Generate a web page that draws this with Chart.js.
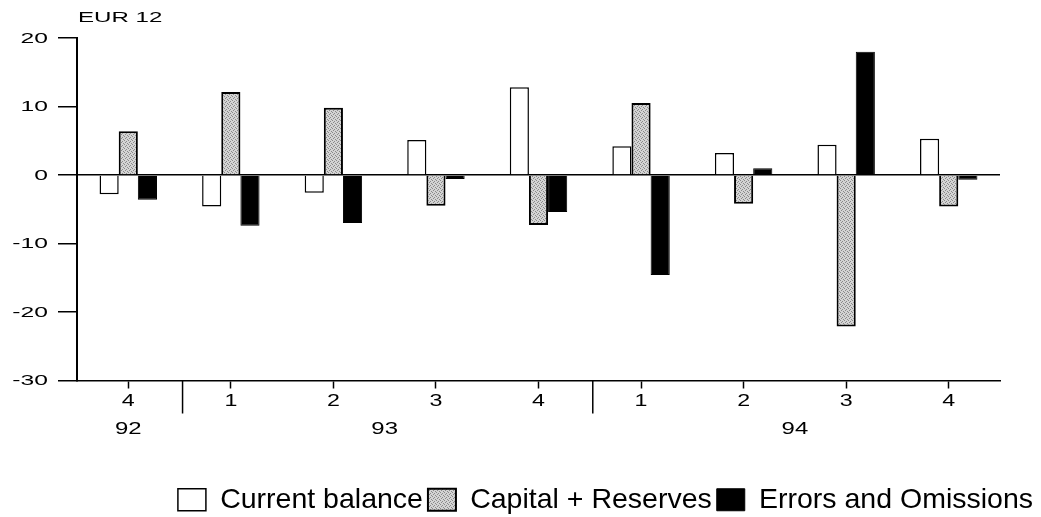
<!DOCTYPE html>
<html>
<head>
<meta charset="utf-8">
<script src="https://cdn.jsdelivr.net/npm/chart.js@4/dist/chart.umd.min.js"></script>
<style>
  html, body { margin: 0; background: #fff; }
  #wrap { width: 1041px; height: 517px; }
</style>
</head>
<body>
<div id="wrap"><canvas id="chart"></canvas></div>
<script>
// quarters and years (EUR 12 balance of payments)
const quarters = ["4", "1", "2", "3", "4", "1", "2", "3", "4"];
const years = ["92", "93", "93", "93", "93", "94", "94", "94", "94"];
const currentBalance = [-2.8, -4.6, -2.6, 5.1, 12.8, 4.2, 3.2, 4.4, 5.3];
const capitalReserves = [6.4, 12.1, 9.8, -4.5, -7.3, 10.5, -4.2, -22.1, -4.6];
const errorsOmissions = [-3.6, -7.4, -7.0, -0.6, -5.4, -14.6, 1.0, 18.0, -0.7];
const yMin = -30;
const yMax = 20;
const yStep = 10;

const FONT = '"Liberation Sans", Arial, Helvetica, sans-serif';
const CLEAR = "rgba(0,0,0,0)";

// stippled grey fill for the capital bars
function makeStipple() {
  const c = document.createElement("canvas");
  c.width = 4;
  c.height = 4;
  const g = c.getContext("2d");
  g.fillStyle = "#d4d4d4";
  g.fillRect(0, 0, 4, 4);
  g.fillStyle = "#8a8a8a";
  g.fillRect(0, 0, 1, 1);
  g.fillRect(2, 1, 1, 1);
  g.fillRect(1, 2, 1, 1);
  g.fillRect(3, 3, 1, 1);
  return g.createPattern(c, "repeat");
}

// the axis lettering in the original is wide, so draw it stretched
function wideText(ctx, text, x, y, align, size, sx) {
  ctx.save();
  ctx.translate(x, y);
  ctx.scale(sx, 1);
  ctx.font = size + "px " + FONT;
  ctx.textAlign = align;
  ctx.textBaseline = "middle";
  ctx.fillText(text, 0, 0);
  ctx.restore();
}

const axisText = {
  id: "axisText",
  afterDraw(chart) {
    const ctx = chart.ctx;
    const x = chart.scales.x;
    const y = chart.scales.y;
    const area = chart.chartArea;
    ctx.save();
    ctx.fillStyle = "#000";
    ctx.strokeStyle = "#000";
    ctx.lineWidth = 1.5;

    // y tick labels
    y.ticks.forEach((t) => {
      wideText(ctx, String(t.value), area.left - 29, y.getPixelForValue(t.value) + 0.5, "right", 14.5, 1.7);
    });

    // quarter labels
    x.ticks.forEach((t, i) => {
      wideText(ctx, quarters[i], x.getPixelForValue(i), area.bottom + 21, "center", 16, 1.45);
    });

    // year labels and separators between years
    let start = 0;
    for (let i = 1; i <= years.length; i++) {
      if (i === years.length || years[i] !== years[start]) {
        const mid = (x.getPixelForValue(start) + x.getPixelForValue(i - 1)) / 2;
        wideText(ctx, years[start], mid, area.bottom + 49, "center", 16.5, 1.45);
        if (i < years.length) {
          const sep = (x.getPixelForValue(i - 1) + x.getPixelForValue(i)) / 2 + 3;
          ctx.beginPath();
          ctx.moveTo(sep, area.bottom);
          ctx.lineTo(sep, area.bottom + 33);
          ctx.stroke();
        }
        start = i;
      }
    }

    // unit label above the y axis
    wideText(ctx, "EUR 12", area.left + 1, area.top - 20, "left", 14, 1.72);
    ctx.restore();
  },
};

const stipple = makeStipple();

new Chart(document.getElementById("chart"), {
  type: "bar",
  data: {
    labels: quarters,
    datasets: [
      {
        label: "Current balance",
        data: currentBalance,
        backgroundColor: "#fff",
        borderColor: "#000",
        borderWidth: 1.5,
      },
      {
        label: "Capital + Reserves",
        data: capitalReserves,
        backgroundColor: stipple,
        borderColor: "#000",
        borderWidth: 2,
      },
      {
        label: "Errors and Omissions",
        data: errorsOmissions,
        backgroundColor: "#000",
        borderColor: "#000",
        borderWidth: 1,
      },
    ],
  },
  options: {
    responsive: true,
    maintainAspectRatio: false,
    animation: false,
    categoryPercentage: 0.56,
    barPercentage: 1.0,
    layout: { padding: { top: 38, right: 3, left: 0, bottom: -7 } },
    plugins: {
      legend: {
        position: "bottom",
        align: "end",
        labels: {
          color: "#000",
          font: { family: FONT, size: 28.5 },
          boxWidth: 28,
          boxHeight: 22,
          padding: 5,
        },
      },
      tooltip: { enabled: false },
    },
    scales: {
      x: {
        grid: {
          offset: false,
          drawOnChartArea: false,
          tickLength: 8,
          tickColor: "#000",
          tickWidth: 1.5,
        },
        border: { color: "#000", width: 1.5 },
        ticks: { color: CLEAR, font: { family: FONT, size: 15 }, maxRotation: 0 },
        afterFit(scale) {
          scale.height = 100;
        },
      },
      y: {
        min: yMin,
        max: yMax,
        grid: {
          color: (c) => (c.tick && c.tick.value === 0 ? "#000" : CLEAR),
          lineWidth: 1.5,
          tickLength: 19,
          tickColor: "#000",
          tickWidth: 1.5,
        },
        border: { color: "#000", width: 2 },
        ticks: { stepSize: yStep, color: CLEAR, font: { family: FONT, size: 14 } },
        afterFit(scale) {
          scale.width = 77;
        },
      },
      // empty right-hand spacer so the legend can reach further right than the plot
      spacer: {
        position: "right",
        grid: { display: false },
        border: { display: false },
        ticks: { display: false },
        afterFit(scale) {
          scale.width = 38;
        },
      },
    },
  },
  plugins: [axisText],
});
</script>
</body>
</html>
